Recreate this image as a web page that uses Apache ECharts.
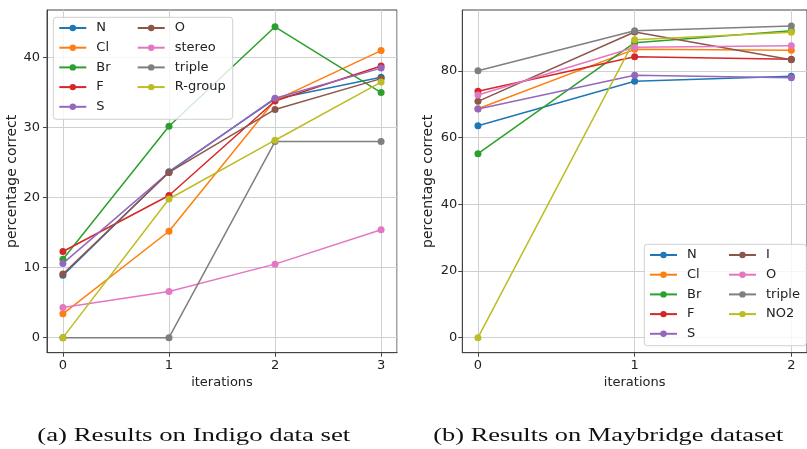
<!DOCTYPE html>
<html><head><meta charset="utf-8">
<script src="https://cdn.jsdelivr.net/npm/echarts@6/dist/echarts.min.js"></script>
<style>html,body{margin:0;padding:0;background:#fff}#c{width:807px;height:449px}</style>
</head><body><div id="c"></div>
<script>
// ---------- data ----------
const iterA = [0, 1, 2, 3];
const namesA = ['N', 'Cl', 'Br', 'F', 'S', 'O', 'stereo', 'triple', 'R-group'];
const A_N = [8.9, 23.7, 34.1, 37.2];
const A_Cl = [3.4, 15.2, 33.9, 41.0];
const A_Br = [11.2, 30.2, 44.4, 35.0];
const A_F = [12.3, 20.3, 33.8, 38.8];
const A_S = [10.6, 23.6, 34.2, 38.5];
const A_O = [9.1, 23.6, 32.6, 37.0];
const A_stereo = [4.3, 6.6, 10.5, 15.4];
const A_triple = [0, 0, 28.0, 28.0];
const A_Rgroup = [0, 19.8, 28.2, 36.5];
const valuesA = [A_N, A_Cl, A_Br, A_F, A_S, A_O, A_stereo, A_triple, A_Rgroup];

const iterB = [0, 1, 2];
const namesB = ['N', 'Cl', 'Br', 'F', 'S', 'I', 'O', 'triple', 'NO2'];
const B_N = [63.6, 76.9, 78.4];
const B_Cl = [68.7, 86.5, 86.2];
const B_Br = [55.2, 88.5, 92.1];
const B_F = [73.9, 84.3, 83.5];
const B_S = [68.6, 78.7, 78.0];
const B_I = [70.9, 91.7, 83.4];
const B_O = [72.8, 87.1, 87.6];
const B_triple = [80.1, 92.1, 93.5];
const B_NO2 = [0, 89.4, 91.6];
const valuesB = [B_N, B_Cl, B_Br, B_F, B_S, B_I, B_O, B_triple, B_NO2];

const yTicksA = [0, 10, 20, 30, 40];
const yTicksB = [0, 20, 40, 60, 80];
const captionA = '(a) Results on Indigo data set';
const captionB = '(b) Results on Maybridge dataset';
const xName = 'iterations';
const yName = 'percentage correct';

// ---------- style ----------
const palette = ['#1f77b4', '#ff7f0e', '#2ca02c', '#d62728', '#9467bd', '#8c564b', '#e377c2', '#7f7f7f', '#bcbd22'];
const FONT = 'DejaVu Sans';
const TXT = '#222';
const SPINE = '#444';
const GRIDC = '#d0d0d0';

function mkSeries(names, values, iters, idx) {
  return names.map((n, i) => ({
    name: n, type: 'line', xAxisIndex: idx, yAxisIndex: idx, z: 2,
    data: values[i].map((v, k) => [iters[k], v]),
    symbol: 'circle', symbolSize: 7, showSymbol: true,
    lineStyle: { width: 1.5, color: palette[i] },
    itemStyle: { color: palette[i] },
    emphasis: { disabled: true }, animation: false
  }));
}

function xAxis(idx, min, max) {
  return {
    type: 'value', gridIndex: idx, min: min, max: max, minInterval: 1, maxInterval: 1,
    name: xName, nameLocation: 'middle', nameGap: 20,
    nameTextStyle: { fontFamily: FONT, fontSize: 13, color: TXT },
    axisLine: { show: true, onZero: false, lineStyle: { color: SPINE, width: 1 } },
    axisTick: { show: true, length: 4, lineStyle: { color: SPINE } },
    axisLabel: { fontFamily: FONT, fontSize: 13, color: TXT, margin: 6, showMinLabel: false, showMaxLabel: false },
    splitLine: { show: true, lineStyle: { color: GRIDC, width: 1 } }
  };
}
function yAxis(idx, min, max, step, ticks, gap, margin) {
  return {
    type: 'value', gridIndex: idx, min: min, max: max, minInterval: step, maxInterval: step,
    name: yName, nameLocation: 'middle', nameGap: gap,
    nameTextStyle: { fontFamily: FONT, fontSize: 14, color: TXT },
    axisLine: { show: true, onZero: false, lineStyle: { color: SPINE, width: 1 } },
    axisTick: { show: true, length: 4, lineStyle: { color: SPINE }, customValues: ticks },
    axisLabel: { fontFamily: FONT, fontSize: 13, color: TXT, margin: margin, customValues: ticks },
    splitLine: { show: true, lineStyle: { color: GRIDC, width: 1 } }
  };
}

function legendCol(names, left, top, overrides) {
  return {
    orient: 'vertical', left: left, top: top, padding: 0, z: 20,
    itemWidth: 27, itemHeight: 8, itemGap: 5.7,
    textStyle: { fontFamily: FONT, fontSize: 13, color: TXT, lineHeight: 14, padding: [0, 0, 0, 5] },
    selectedMode: false,
    data: names.map(n => (overrides && overrides[n]) ? Object.assign({ name: n }, overrides[n]) : n)
  };
}

function textScale(text, font, target) {
  const ctx = document.createElement('canvas').getContext('2d');
  ctx.font = font;
  return target / ctx.measureText(text).width;
}
const capFont = '19.5px "Liberation Serif"';

const chart = echarts.init(document.getElementById('c'), null, { renderer: 'canvas' });
const pinkO = { itemStyle: { color: palette[6] }, lineStyle: { color: palette[6] } };
chart.setOption({
  animation: false,
  backgroundColor: '#fff',
  grid: [
    { left: 47, top: 10, width: 350, height: 342.7, show: true, borderColor: SPINE, borderWidth: 1, containLabel: false },
    { left: 462.3, top: 10, width: 350.3, height: 342.7, show: true, borderColor: SPINE, borderWidth: 1, containLabel: false }
  ],
  xAxis: [xAxis(0, -0.15, 3.15), xAxis(1, -0.1, 2.1)],
  yAxis: [yAxis(0, -2.15, 46.8, 10, yTicksA, 26, 7), yAxis(1, -4.5, 98.3, 20, yTicksB, 26.5, 5)],
  legend: [
    legendCol(namesA.slice(0, 5), 58.3, 21),
    legendCol(namesA.slice(5), 136.7, 21),
    legendCol(namesB.slice(0, 5), 649, 248),
    legendCol(namesB.slice(5), 728, 248, { 'O': pinkO })
  ],
  graphic: {
    z: 10,
    elements: [
      { type: 'rect', z: 10, shape: { x: 53.3, y: 17.3, width: 179.4, height: 102, r: 3 },
        style: { fill: 'rgba(255,255,255,0.8)', stroke: '#d0d0d0', lineWidth: 1 } },
      { type: 'rect', z: 10, shape: { x: 644.3, y: 244.3, width: 162, height: 101.4, r: 3 },
        style: { fill: 'rgba(255,255,255,0.8)', stroke: '#d0d0d0', lineWidth: 1 } },
      { type: 'text', x: 37.3, y: 435.5, scaleX: textScale(captionA, capFont, 313),
        style: { text: captionA, font: capFont, fill: '#111', verticalAlign: 'middle', align: 'left' } },
      { type: 'text', x: 433.3, y: 435.5, scaleX: textScale(captionB, capFont, 350),
        style: { text: captionB, font: capFont, fill: '#111', verticalAlign: 'middle', align: 'left' } }
    ]
  },
  series: mkSeries(namesA, valuesA, iterA, 0).concat(mkSeries(namesB, valuesB, iterB, 1))
});
</script>
</body></html>
